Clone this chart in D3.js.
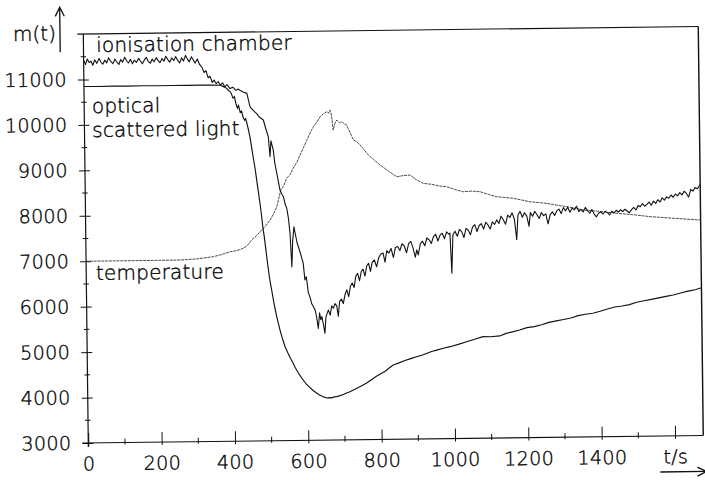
<!DOCTYPE html>
<html>
<head>
<meta charset="utf-8">
<script src="https://cdn.jsdelivr.net/npm/d3@7"></script>
<style>
  html, body { margin: 0; background: #fff; }
  svg { display: block; }
  text { font-family: "DejaVu Sans", sans-serif; font-weight: 200; fill: #000; stroke: #000; stroke-width: 0.35; }
</style>
</head>
<body>
<svg id="chart" width="705" height="480"></svg>
<script>
// Axis ticks
const xTicks = [0, 200, 400, 600, 800, 1000, 1200, 1400, 1600];
const xMinorTicks = [100, 300, 500, 700, 900, 1100, 1300, 1500];
const yTicks = [3000, 4000, 5000, 6000, 7000, 8000, 9000, 10000, 11000];
const yMinorTicks = [3500, 4500, 5500, 6500, 7500, 8500, 9500, 10500, 11500];
const xUnitLabel = "t/s";
const yUnitLabel = "m(t)";

// Series: [t in s, m(t)]
const ionisation = [
  [0,11420],[5,11330],[10,11450],[15,11370],[20,11400],[25,11310],[30,11430],[36,11350],[42,11460],[47,11380],
  [52,11330],[58,11420],[63,11360],[68,11470],[74,11390],[80,11340],[85,11440],[90,11380],[96,11320],[101,11430],
  [106,11370],[112,11480],[117,11400],[122,11350],[128,11430],[133,11330],[138,11410],[144,11360],[150,11450],[155,11390],
  [160,11330],[166,11420],[171,11470],[176,11380],[182,11340],[187,11430],[192,11370],[198,11460],[203,11400],[208,11350],
  [214,11440],[219,11380],[224,11490],[230,11410],[235,11360],[240,11450],[246,11390],[251,11480],[256,11400],[262,11340],
  [267,11450],[272,11380],[278,11500],[283,11420],[288,11360],[294,11470],[299,11400],[304,11330],[310,11420],[316,11300],
  [322,11240],[328,11120],[333,11160],[339,11000],[344,11040],[350,10900],[355,10950],[361,10870],[366,10920],[372,10840],
  [378,10890],[384,10800],[390,10850],[398,10760],[406,10790],[414,10720],[420,10750],[425,10720],[434,10680],[444,10650],
  [452,10360],[460,10280],[470,10200],[478,10120],[488,10060],[495,9850],[501,9690],[505,9250],[508,9600],[514,9400],
  [518,9100],[523,8880],[527,8700],[531,8520],[536,8420],[540,8370],[545,8200],[549,8110],[553,7900],[557,7560],
  [561,6820],[564,7400],[568,7700],[571,7560],[576,7350],[582,7190],[587,7050],[592,6900],[596,6530],[600,6600],
  [605,6250],[609,6160],[614,6000],[618,5950],[623,5860],[627,5700],[631,5460],[635,5800],[638,5650],[641,5720],
  [645,5550],[649,5350],[652,5700],[656,5800],[659,5860],[664,5750],[668,5950],[673,5900],[677,6000],[682,5950],
  [686,5720],[690,6050],[695,6100],[700,6000],[705,6200],[710,6300],[715,6150],[720,6380],[725,6450],[730,6350],
  [735,6600],[740,6660],[745,6500],[750,6700],[755,6750],[760,6600],[765,6820],[770,6880],[775,6700],[780,6900],
  [786,6950],[792,6800],[798,7000],[804,7080],[810,7100],[815,6900],[820,7150],[826,7100],[832,7200],[838,7000],
  [844,7220],[850,7240],[856,7150],[862,7300],[868,7250],[874,7100],[880,7300],[886,7350],[892,7200],[898,7000],
  [902,7160],[906,7050],[912,7300],[918,7350],[924,7250],[930,7420],[936,7380],[942,7300],[948,7450],[954,7500],
  [960,7350],[966,7480],[972,7520],[978,7400],[984,7550],[990,7500],[993,7520],[997,6640],[1001,7480],[1007,7560],
  [1013,7450],[1019,7600],[1025,7550],[1031,7420],[1037,7620],[1043,7580],[1049,7480],[1055,7650],[1061,7700],[1067,7550],
  [1073,7680],[1079,7720],[1085,7600],[1091,7750],[1097,7690],[1103,7600],[1109,7760],[1115,7700],[1121,7800],[1127,7720],
  [1133,7880],[1139,7800],[1145,7700],[1151,7900],[1157,7850],[1163,7950],[1169,7820],[1175,7360],[1179,7900],[1185,7980],
  [1191,7850],[1197,7950],[1203,7880],[1209,7650],[1213,7950],[1219,7870],[1225,7980],[1231,7900],[1237,7820],[1243,7950],
  [1249,7880],[1255,7920],[1261,7700],[1267,7900],[1273,7960],[1279,7880],[1285,7980],[1291,8020],[1297,7920],[1303,8050],
  [1309,7980],[1315,8060],[1321,7950],[1327,8040],[1333,8000],[1339,8080],[1345,7960],[1351,8010],[1357,7950],[1363,8050],
  [1369,7980],[1375,7920],[1381,8000],[1387,7900],[1393,7840],[1399,7920],[1405,7950],[1411,7900],[1417,7960],[1423,7930],
  [1429,7880],[1435,7960],[1441,7920],[1447,7980],[1453,7940],[1459,7990],[1465,7950],[1471,8000],[1477,7960],[1483,7920],
  [1489,7990],[1495,8040],[1501,7980],[1507,8080],[1513,8050],[1519,8120],[1525,8060],[1531,8100],[1537,8150],[1543,8080],
  [1549,8170],[1555,8120],[1561,8200],[1567,8150],[1573,8240],[1579,8190],[1585,8260],[1591,8230],[1597,8300],[1603,8250],
  [1609,8320],[1615,8280],[1621,8350],[1627,8300],[1633,8380],[1639,8330],[1645,8250],[1651,8420],[1657,8380],[1663,8460],
  [1669,8430],[1677,8520]
];

const optical = [
  [0,10845],[40,10842],[80,10846],[120,10843],[160,10845],[200,10842],[240,10844],[280,10841],[320,10843],[350,10840],
  [372,10836],[382,10800],[389,10766],[394,10720],[398,10700],[402,10640],[406,10550],[410,10580],[414,10420],[418,10330],
  [421,10380],[425,10240],[429,10260],[433,10120],[437,10060],[440,10090],[443,9998],[447,9850],[451,9688],[455,9470],
  [459,9248],[464,8990],[468,8740],[472,8480],[476,8234],[480,7960],[483,7706],[487,7470],[490,7250],[493,7030],
  [496,6824],[500,6560],[505,6318],[511,6020],[518,5728],[526,5450],[534,5213],[540,5060],[547,4930],[554,4810],
  [561,4705],[567,4600],[574,4500],[581,4410],[588,4329],[596,4240],[605,4170],[614,4100],[624,4038],[631,4000],
  [638,3970],[645,3945],[652,3926],[659,3935],[665,3928],[672,3948],[679,3953],[688,3975],[697,4000],[706,4030],
  [715,4058],[726,4100],[738,4150],[749,4190],[761,4245],[775,4320],[790,4400],[801,4450],[812,4500],[823,4570],
  [834,4635],[850,4680],[866,4730],[882,4770],[898,4811],[912,4840],[925,4880],[939,4920],[953,4951],[971,4990],
  [990,5022],[1012,5070],[1035,5127],[1057,5180],[1080,5233],[1100,5230],[1126,5245],[1143,5300],[1160,5330],[1180,5370],
  [1200,5420],[1220,5440],[1240,5480],[1260,5530],[1280,5560],[1300,5590],[1320,5620],[1340,5670],[1360,5700],[1380,5720],
  [1400,5760],[1420,5810],[1440,5850],[1460,5870],[1480,5900],[1500,5950],[1520,5980],[1540,6010],[1560,6040],[1580,6070],
  [1600,6100],[1620,6140],[1640,6180],[1660,6210],[1677,6250]
];

const temperature = [
  [0,7000],[100,7000],[200,7000],[256,7002],[300,7020],[347,7066],[370,7110],[393,7171],[410,7190],[429,7242],
  [440,7300],[452,7422],[466,7520],[480,7640],[492,7740],[503,7858],[512,7980],[522,8148],[533,8513],[541,8600],
  [550,8777],[559,8850],[568,8995],[578,9120],[587,9279],[596,9430],[606,9607],[615,9760],[624,9899],[634,10000],
  [643,10117],[652,10180],[661,10225],[666,10190],[670,10260],[674,10150],[678,9820],[683,9960],[688,10040],[695,9980],
  [702,10000],[709,9950],[715,9926],[724,9760],[733,9596],[742,9560],[751,9483],[760,9400],[769,9299],[787,9160],
  [805,9037],[828,8900],[850,8775],[868,8800],[886,8810],[904,8700],[922,8623],[945,8600],[966,8560],[986,8542],
  [1008,8480],[1031,8427],[1054,8440],[1077,8423],[1100,8360],[1122,8309],[1145,8290],[1167,8269],[1190,8230],[1212,8190],
  [1235,8170],[1258,8150],[1290,8100],[1320,8060],[1358,7994],[1400,7960],[1449,7913],[1500,7870],[1539,7829],[1600,7790],
  [1677,7741]
];

// Curve annotations
const annotations = [
  { text: "ionisation chamber", x: 101, y: 52 },
  { text: "optical", x: 96, y: 113 },
  { text: "scattered light", x: 96, y: 137 },
  { text: "temperature", x: 98, y: 280 }
];

const ox = 88.3, oy = 443;          // origin of the axes on the page
const W = 615, H = 409;

const svg = d3.select("#chart");
const page = svg.append("g").attr("transform", `rotate(-0.7, ${ox}, ${oy})`);
const g = page.append("g").attr("transform", `translate(${ox},${oy - H})`);

const x = d3.scaleLinear().domain([0, 1677]).range([0, W]);
const y = d3.scaleLinear().domain([3000, 12000]).range([H, 0]);

const ink = "#111";
const fontFamily = "DejaVu Sans, sans-serif";

// Frame: top and right edges
g.append("line").attr("x1", -6).attr("x2", W).attr("y1", 0).attr("y2", 0)
  .attr("stroke", ink).attr("stroke-width", 1.1);
g.append("line").attr("x1", W).attr("x2", W).attr("y1", 0).attr("y2", H)
  .attr("stroke", ink).attr("stroke-width", 1.4);

// X axis
const xAxis = d3.axisBottom(x).tickValues(xTicks)
  .tickFormat(d => d === 1600 ? xUnitLabel : d3.format("d")(d))
  .tickSizeOuter(0).tickSizeInner(0).tickPadding(14);
const xg = g.append("g").attr("transform", `translate(0,${H})`).call(xAxis);
xg.select(".domain").remove();
xg.selectAll(".tick line").attr("y1", 3).attr("y2", -10).attr("stroke", ink).attr("stroke-width", 1);
xg.selectAll("text").attr("font-size", 19).attr("letter-spacing", 0.4).attr("fill", "#000")
  .attr("stroke", "#000").attr("stroke-width", 0.35)
  .attr("font-family", fontFamily).attr("font-weight", 200);
g.append("line").attr("x1", -6).attr("x2", W).attr("y1", H).attr("y2", H)
  .attr("stroke", ink).attr("stroke-width", 1.1);
g.append("g").selectAll("line").data(xMinorTicks).join("line")
  .attr("x1", d => x(d)).attr("x2", d => x(d)).attr("y1", H + 2).attr("y2", H - 4)
  .attr("stroke", ink).attr("stroke-width", 1);

// Y axis
const yAxis = d3.axisLeft(y).tickValues(yTicks).tickFormat(d3.format("d"))
  .tickSizeOuter(0).tickSizeInner(0).tickPadding(17);
const yg = g.append("g").call(yAxis);
yg.select(".domain").remove();
yg.selectAll(".tick line").attr("x1", -6).attr("x2", 5).attr("stroke", ink).attr("stroke-width", 1);
yg.selectAll("text").attr("font-size", 19).attr("letter-spacing", 0.4).attr("fill", "#000")
  .attr("stroke", "#000").attr("stroke-width", 0.35)
  .attr("font-family", fontFamily).attr("font-weight", 200);
g.append("line").attr("x1", 0).attr("x2", 0).attr("y1", 0).attr("y2", H + 4)
  .attr("stroke", ink).attr("stroke-width", 1.2);
g.append("g").selectAll("line").data(yMinorTicks).join("line")
  .attr("x1", -3).attr("x2", 2.5).attr("y1", d => y(d)).attr("y2", d => y(d))
  .attr("stroke", ink).attr("stroke-width", 1);

// Curves
const line = d3.line().x(d => x(d[0])).y(d => y(d[1]));
g.append("path").datum(temperature).attr("d", line)
  .attr("fill", "none").attr("stroke", "#2a2a2a").attr("stroke-width", 0.85)
  .attr("stroke-dasharray", "3,0.8");
g.append("path").datum(optical).attr("d", line)
  .attr("fill", "none").attr("stroke", ink).attr("stroke-width", 1.15);
g.append("path").datum(ionisation).attr("d", line)
  .attr("fill", "none").attr("stroke", ink).attr("stroke-width", 1.1)
  .attr("stroke-linejoin", "round");

// Annotations (page coordinates before the slight tilt)
page.append("g").selectAll("text").data(annotations).join("text")
  .attr("x", d => d.x).attr("y", d => d.y).attr("font-size", 20)
  .attr("letter-spacing", 0.2).text(d => d.text);

// Y unit label with arrow
page.append("text").attr("x", 18).attr("y", 40).attr("font-size", 20).text(yUnitLabel);
const arrows = page.append("g").attr("stroke", ink).attr("stroke-width", 1.3).attr("fill", "none");
arrows.append("line").attr("x1", 65).attr("x2", 65).attr("y1", 52).attr("y2", 8);
arrows.append("polyline").attr("points", "60.5,16 65,7 69.5,16");

// X unit arrow
arrows.append("line").attr("x1", 660).attr("x2", 706).attr("y1", 479).attr("y2", 479);
arrows.append("polyline").attr("points", "697,474.5 706,479 697,483.5");
</script>
</body>
</html>
